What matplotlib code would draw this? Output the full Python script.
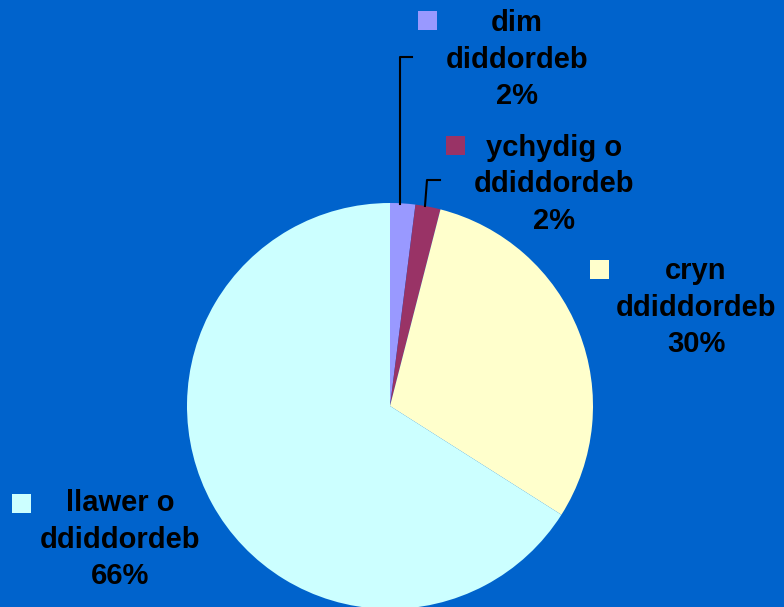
import matplotlib.pyplot as plt
from matplotlib.patches import Rectangle

# data
labels = ["dim\ndiddordeb", "ychydig o\nddiddordeb", "cryn\nddiddordeb", "llawer o\nddiddordeb"]
values = [2, 2, 30, 66]
colors = ["#9999FF", "#993366", "#FFFFCC", "#CCFFFF"]
bg = "#0063CC"

W, H = 784, 607
fig = plt.figure(figsize=(W / 100, H / 100), dpi=100, facecolor=bg)
ax = fig.add_axes([0, 0, 1, 1])
ax.set_facecolor(bg)

cx, cy, rad = 390, H - 406, 203
wedges, _ = ax.pie(values, colors=colors, startangle=90, counterclock=False,
                   center=(cx, cy), radius=rad, frame=True)
ax.set_xlim(0, W)
ax.set_ylim(0, H)
ax.set_aspect("equal")
ax.axis("off")

# label layout (pixel positions from top-left): text center x, top line y, square x, square y
layout = [(517, 23, 418, 11), (554, 148, 446, 136), (696, 271, 590, 260), (120, 503, 12, 494)]
for lab, v, c, (tx, ty, sx, sy) in zip(labels, values, colors, layout):
    txt = lab + "\n%d%%" % v
    for i, line in enumerate(txt.split("\n")):
        ax.text(tx, H - (ty + i * 36.5), line, ha="center", va="center", fontsize=21,
                fontweight="bold", family="Liberation Sans", color="black")
    ax.add_patch(Rectangle((sx, H - sy - 19), 19, 19, facecolor=c, edgecolor="none"))

# leader lines
ax.plot([400, 400, 412], [H - 204, H - 57, H - 57], color="black", lw=1.5)
ax.plot([425, 427, 440], [H - 206, H - 180, H - 180], color="black", lw=1.5)

fig.savefig("out.png", dpi=100, facecolor=bg)
